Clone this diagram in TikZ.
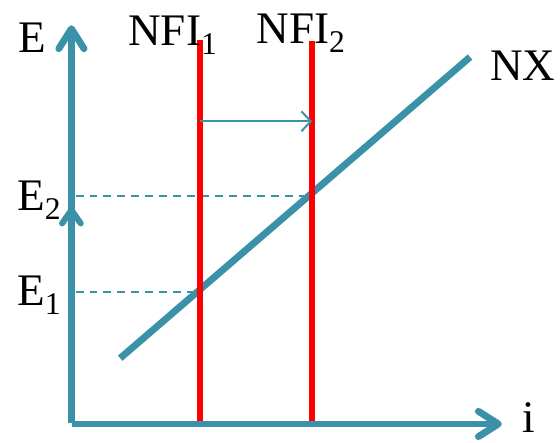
\documentclass[tikz,border=0pt]{standalone}
\usepackage{fontspec}
\setmainfont{Liberation Serif}
\usetikzlibrary{arrows.meta,calc,positioning}
\definecolor{teal}{HTML}{3A91A8}
\definecolor{nfired}{HTML}{FF0000}
\tikzset{
  axis/.style={line width=5.2pt,draw=teal,-{Straight Barb[length=15pt,width=19pt,round]}},
  midtip/.style={line width=4.6pt,draw=teal,-{Straight Barb[length=10pt,width=14pt,round]}},
  nxline/.style={line width=5.2pt,draw=teal},
  nfiline/.style={line width=4.5pt,draw=nfired},
  guide/.style={line width=1.1pt,draw=teal,dash pattern=on 6pt off 4.5pt},
  shiftarrow/.style={line width=1.5pt,draw=teal,-{Straight Barb[length=7pt,width=15pt]}},
  lbl/.style={anchor=base west,inner sep=0pt,font=\fontsize{34}{40}\selectfont}
}
\begin{document}
\begin{tikzpicture}[x=1cm,y=1cm]
        \useasboundingbox (0,0) rectangle (14.82,11.70);
        \coordinate (Oy) at (1.89,0.50);
        \coordinate (Ox) at (1.91,0.48);
        \coordinate (ytop) at (1.89,11.03);
        \coordinate (xend) at (13.28,0.48);
        \coordinate (ymid) at (1.89,6.22);
        \coordinate (f1b) at (5.30,0.48);
        \coordinate (f1t) at (5.30,10.64);
        \coordinate (f2b) at (8.26,0.48);
        \coordinate (f2t) at (8.26,10.61);
        \coordinate (nxa) at (3.18,2.22);
        \coordinate (nxb) at (12.44,10.19);
        \coordinate (e1) at (2.00,3.97);
        \coordinate (e2) at (2.00,6.51);
        \coordinate (sa) at (5.30,8.49);

        \draw[guide] (e1) -- (e1 -| f1b);
        \draw[guide] (e2) -- (e2 -| f2b);

        \draw[nxline] (nxa) -- (nxb);

        \draw[nfiline] (f1b) -- (f1t);
        \draw[nfiline] (f2b) -- (f2t);

        \draw[axis] (Oy) -- (ytop);
        \draw[axis] (Ox) -- (xend);
        \draw[midtip] ($(ymid)+(0,-0.6)$) -- (ymid);

        \draw[shiftarrow] (sa) -- (sa -| f2b);

        \node[lbl] (lE) at (0.48,10.32) {E};
        \node[lbl] (lE2) at (0.45,6.14) {E\textsubscript{2}};
        \node[lbl] (lE1) at (0.45,3.62) {E\textsubscript{1}};
        \node[lbl] (li) at (13.81,0.26) {i};
        \node[lbl] (lnfi1) at (3.39,10.50) {NFI\textsubscript{1}};
        \node[lbl] (lnfi2) at (6.78,10.56) {NFI\textsubscript{2}};
        \node[lbl] (lnx) at (12.97,9.58) {NX};
\end{tikzpicture}
\end{document}
